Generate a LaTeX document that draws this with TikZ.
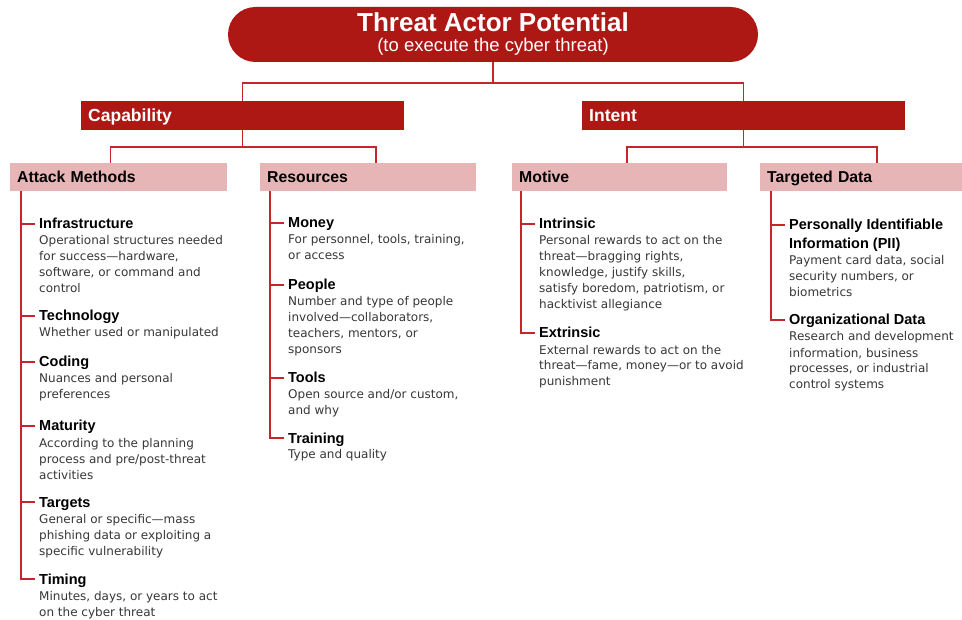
\documentclass[tikz,border=0pt]{standalone}
\usepackage{fontspec}
\setmainfont{DejaVu Sans}
\newfontfamily\headfont{Liberation Sans}
\usetikzlibrary{shapes.misc}
\definecolor{darkred}{RGB}{174,24,20}
\definecolor{pinkbar}{RGB}{231,181,182}
\definecolor{linkred}{RGB}{196,38,44}
\definecolor{bodygray}{RGB}{55,55,55}

\begin{document}
\begin{tikzpicture}[x=1pt,y=-1pt,
  link/.style={linkred, line width=1.5pt},
  pill/.style={rounded rectangle, fill=darkred, text=white, minimum width=530pt,
    minimum height=55pt, inner sep=0pt, align=center,
    font=\headfont\fontsize{18.5}{20}\selectfont},
  bar/.style={fill=darkred, text=white, anchor=west, inner xsep=7pt, inner ysep=0pt,
    text width=309pt, minimum height=29pt, text height=12.6pt, text depth=0pt,
    font=\headfont\bfseries\fontsize{17.5}{20}\selectfont},
  branch/.style={fill=pinkbar, anchor=west, inner xsep=7pt, inner ysep=0pt,
    minimum height=28pt, text height=11.4pt, text depth=0pt,
    font=\headfont\bfseries\fontsize{15.8}{18}\selectfont},
  head/.style={anchor=base west, inner sep=0pt, align=left,
    font=\headfont\bfseries\fontsize{14.5}{19}\selectfont},
  desc/.style={anchor=base west, inner sep=0pt, align=left, text=bodygray,
    font=\fontsize{12}{16}\selectfont}]
  \path[use as bounding box, fill=white] (0,0) rectangle (962,620);

  % top of the tree
  \node[pill] (title) at (493,34.5) {{\bfseries\fontsize{26}{20}\selectfont Threat Actor Potential}\\(to execute the cyber threat)};
  \node[bar] (cap) at (81,115.5) {Capability};
  \node[bar] (intent) at (582,115.5) {Intent};
  \draw[link] (title.south) -- ++(0,21) -| (cap.north);
  \draw[link] (title.south) -- ++(0,21) -| (intent.north);

  \node[branch, text width=203pt] (am) at (10,177) {Attack Methods};
  \node[branch, text width=202pt] (res) at (260,177) {Resources};
  \node[branch, text width=201pt] (mot) at (512,177) {Motive};
  \node[branch, text width=188pt] (tgt) at (760,177) {Targeted Data};
  \draw[link] (cap.south) -- ++(0,17) -| ([xshift=-8pt]am.north);
  \draw[link] (cap.south) -- ++(0,17) -| ([xshift=8pt]res.north);
  \draw[link] (intent.south) -- ++(0,17) -| ([xshift=7.5pt]mot.north);
  \draw[link] (intent.south) -- ++(0,17) -| ([xshift=16pt]tgt.north);

  % attack methods (a desc node sits on its last line: 16pt per line below the head)
  \coordinate (amtop) at ([xshift=11pt]am.south west);
  \node[head] (infra) at (39,229) {Infrastructure};
  \node[desc] (infrad) at ([yshift=-64pt]infra.base west) {Operational structures needed\\for success—hardware,\\software, or command and\\control};
  \node[head] (tech) at (39,321) {Technology};
  \node[desc] (techd) at ([yshift=-16pt]tech.base west) {Whether used or manipulated};
  \node[head] (coding) at (39,367) {Coding};
  \node[desc] (codingd) at ([yshift=-32pt]coding.base west) {Nuances and personal\\preferences};
  \node[head] (maturity) at (39,431) {Maturity};
  \node[desc] (maturityd) at ([yshift=-48pt]maturity.base west) {According to the planning\\process and pre/post-threat\\activities};
  \node[head] (targets) at (39,507) {Targets};
  \node[desc] (targetsd) at ([yshift=-48pt]targets.base west) {General or specific—mass\\phishing data or exploiting a\\specific vulnerability};
  \node[head] (timing) at (39,584) {Timing};
  \node[desc] (timingd) at ([yshift=-32pt]timing.base west) {Minutes, days, or years to act\\on the cyber threat};
  \draw[link] (amtop) |- ([xshift=-4pt,yshift=5pt]timing.base west);
  \foreach \n in {infra,tech,coding,maturity,targets}
    \draw[link] ([xshift=-4pt,yshift=5pt]\n.base west) -- ++(-14,0);

  % resources
  \coordinate (restop) at ([xshift=10pt]res.south west);
  \node[head] (money) at (288,228) {Money};
  \node[desc] (moneyd) at ([yshift=-32pt]money.base west) {For personnel, tools, training,\\or access};
  \node[head] (people) at (288,290) {People};
  \node[desc] (peopled) at ([yshift=-64pt]people.base west) {Number and type of people\\involved—collaborators,\\teachers, mentors, or\\sponsors};
  \node[head] (tools) at (288,383) {Tools};
  \node[desc] (toolsd) at ([yshift=-32pt]tools.base west) {Open source and/or custom,\\and why};
  \node[head] (training) at (288,443) {Training};
  \node[desc] (trainingd) at ([yshift=-16pt]training.base west) {Type and quality};
  \draw[link] (restop) |- ([xshift=-4pt,yshift=5pt]training.base west);
  \foreach \n in {money,people,tools}
    \draw[link] ([xshift=-4pt,yshift=5pt]\n.base west) -- ++(-14,0);

  % motive
  \coordinate (mottop) at ([xshift=9pt]mot.south west);
  \node[head] (intrinsic) at (539,229) {Intrinsic};
  \node[desc] (intrinsicd) at ([yshift=-80pt]intrinsic.base west) {Personal rewards to act on the\\threat—bragging rights,\\knowledge, justify skills,\\satisfy boredom, patriotism, or\\hacktivist allegiance};
  \node[head] (extrinsic) at (539,338) {Extrinsic};
  \node[desc] (extrinsicd) at ([yshift=-48pt]extrinsic.base west) {External rewards to act on the\\threat—fame, money—or to avoid\\punishment};
  \draw[link] (mottop) |- ([xshift=-4pt,yshift=5pt]extrinsic.base west);
  \draw[link] ([xshift=-4pt,yshift=5pt]intrinsic.base west) -- ++(-14,0);

  % targeted data (two-line head, its base is the second line)
  \coordinate (tgttop) at ([xshift=11pt]tgt.south west);
  \node[head] (pii) at (789,249) {Personally Identifiable\\Information (PII)};
  \node[desc] (piid) at ([yshift=-48pt]pii.base west) {Payment card data, social\\security numbers, or\\biometrics};
  \node[head] (orgdata) at (789,325) {Organizational Data};
  \node[desc] (orgdatad) at ([yshift=-64pt]orgdata.base west) {Research and development\\information, business\\processes, or industrial\\control systems};
  \draw[link] (tgttop) |- ([xshift=-4pt,yshift=5pt]orgdata.base west);
  \draw[link] ([xshift=-4pt,yshift=24pt]pii.base west) -- ++(-14,0);
\end{tikzpicture}
\end{document}
